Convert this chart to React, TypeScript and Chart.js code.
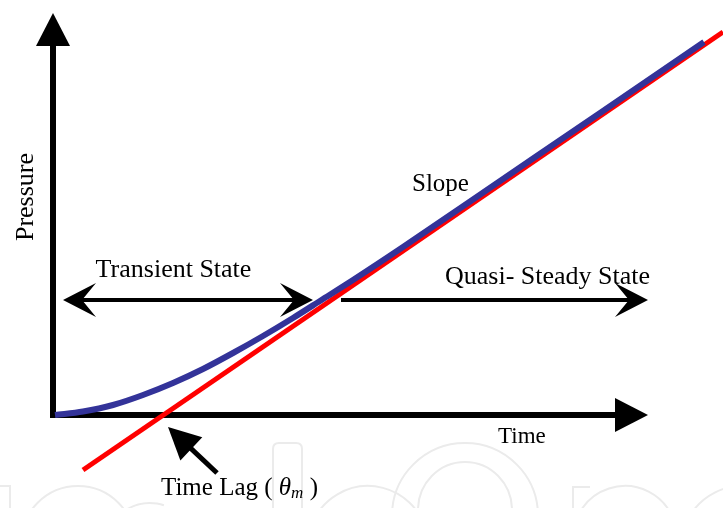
import React, { useEffect, useRef } from "react";
import { Chart, registerables } from "chart.js";

Chart.register(...registerables);

const blueTime = [2, 30, 60, 90, 120, 150, 180, 210, 240, 270, 300, 350, 450, 550, 651];
const bluePressure = [0, 3.5, 10, 20, 32, 46, 62, 79, 97, 116, 135, 168, 236, 304, 373];

// Red line: late-time straight-line (slope) extrapolation
const redTime = [30, 670];
const redPressure = [-55, 383];

// Axis arrows (origin and tips)
const axisTimeTip = 595;
const axisPressureTip = 402;

// State arrows
const stateArrowPressure = 115;
const transientTime = [10, 260];
const quasiTime = [288, 595];

// Time-lag pointer arrow [time, pressure]
const lagTip = [115, -12];
const lagTail = [164, -58];

// Labels
const labelTexts = ["Transient State", "Slope", "Quasi- Steady State", "Time"];
const labelTime = [120.5, 359, 392, 445];
const labelPressure = [138, 224, 131, -28];
const labelAlign = ["center", "left", "left", "left"];
const labelSize = [26, 25, 26, 23];
const yTitle = "Pressure";
const yTitlePos = [-20, 218];
const lagLabelPos = [108, -80];

const FONT = "'Liberation Serif', 'Times New Roman', serif";

function notchedHead(ctx: CanvasRenderingContext2D, tx: number, ty: number, ang: number, L: number, W: number, N: number) {
  const c = Math.cos(ang), s = Math.sin(ang);
  const bx = tx - L * c, by = ty - L * s;
  ctx.beginPath();
  ctx.moveTo(tx, ty);
  ctx.lineTo(bx - W * s, by + W * c);
  ctx.lineTo(tx - (L - N) * c, ty - (L - N) * s);
  ctx.lineTo(bx + W * s, by - W * c);
  ctx.closePath();
  ctx.fill();
}

function triHead(ctx: CanvasRenderingContext2D, tx: number, ty: number, ang: number, L: number, W: number) {
  const c = Math.cos(ang), s = Math.sin(ang);
  const bx = tx - L * c, by = ty - L * s;
  ctx.beginPath();
  ctx.moveTo(tx, ty);
  ctx.lineTo(bx - W * s, by + W * c);
  ctx.lineTo(bx + W * s, by - W * c);
  ctx.closePath();
  ctx.fill();
}

const schematicPlugin = {
  id: "schematic",
  beforeDatasetsDraw(chart: any) {
    const ctx: CanvasRenderingContext2D = chart.ctx;
    const xs = chart.scales.x, ys = chart.scales.y;
    const area = chart.chartArea;
    ctx.save();
    // faint watermark outlines
    ctx.strokeStyle = "#ebebeb";
    ctx.lineWidth = 2;
    const b = area.bottom;
    ctx.beginPath();
    ctx.moveTo(area.left, b - 22);
    ctx.lineTo(area.left + 10, b - 22);
    ctx.lineTo(area.left + 10, b);
    ctx.stroke();
    ctx.beginPath();
    ctx.arc(area.left + 78, b + 35, 57, Math.PI, 2 * Math.PI);
    ctx.stroke();
    ctx.beginPath();
    ctx.arc(area.left + 150, b + 40, 45, Math.PI * 1.05, Math.PI * 1.6);
    ctx.stroke();
    ctx.beginPath();
    ctx.moveTo(area.left + 273, b);
    ctx.lineTo(area.left + 273, b - 59);
    ctx.quadraticCurveTo(area.left + 273, b - 65, area.left + 279, b - 65);
    ctx.lineTo(area.left + 296, b - 65);
    ctx.quadraticCurveTo(area.left + 302, b - 65, area.left + 302, b - 59);
    ctx.lineTo(area.left + 302, b);
    ctx.stroke();
    ctx.beginPath();
    ctx.arc(area.left + 368, b + 38, 60, Math.PI * 1.08, Math.PI * 1.9);
    ctx.stroke();
    ctx.beginPath();
    ctx.ellipse(area.left + 465, b + 8, 73, 73, 0, Math.PI, 2 * Math.PI);
    ctx.stroke();
    ctx.beginPath();
    ctx.ellipse(area.left + 465, b + 2, 47, 48, 0, Math.PI, 2 * Math.PI);
    ctx.stroke();
    ctx.beginPath();
    ctx.moveTo(area.left + 573, b);
    ctx.lineTo(area.left + 573, b - 21);
    ctx.lineTo(area.left + 590, b - 21);
    ctx.stroke();
    ctx.beginPath();
    ctx.arc(area.left + 625, b + 30, 52, Math.PI * 1.15, Math.PI * 1.85);
    ctx.stroke();
    ctx.beginPath();
    ctx.arc(area.left + 742, b + 38, 60, Math.PI * 1.1, Math.PI * 1.6);
    ctx.stroke();

    // axes
    const ox = xs.getPixelForValue(0), oy = ys.getPixelForValue(0);
    const xt = xs.getPixelForValue(axisTimeTip), yt = ys.getPixelForValue(axisPressureTip);
    ctx.strokeStyle = "#000";
    ctx.fillStyle = "#000";
    ctx.lineWidth = 6;
    ctx.lineCap = "butt";
    ctx.beginPath();
    ctx.moveTo(ox, oy + 3);
    ctx.lineTo(ox, yt + 32);
    ctx.stroke();
    triHead(ctx, ox, yt, -Math.PI / 2, 33, 17);
    ctx.beginPath();
    ctx.moveTo(ox - 3, oy);
    ctx.lineTo(xt - 32, oy);
    ctx.stroke();
    triHead(ctx, xt, oy, 0, 33, 17);
    ctx.restore();
  },
  afterDatasetsDraw(chart: any) {
    const ctx: CanvasRenderingContext2D = chart.ctx;
    const xs = chart.scales.x, ys = chart.scales.y;
    const px = (v: number) => xs.getPixelForValue(v);
    const py = (v: number) => ys.getPixelForValue(v);
    ctx.save();
    ctx.fillStyle = "#000";
    ctx.strokeStyle = "#000";
    ctx.lineCap = "butt";

    // Transient double arrow
    const ay = py(stateArrowPressure);
    const L = 33, W = 17, N = 14;
    const tl = px(transientTime[0]), tr = px(transientTime[1]);
    ctx.lineWidth = 4;
    ctx.beginPath();
    ctx.moveTo(tl + (L - N), ay);
    ctx.lineTo(tr - (L - N), ay);
    ctx.stroke();
    notchedHead(ctx, tl, ay, Math.PI, L, W, N);
    notchedHead(ctx, tr, ay, 0, L, W, N);

    // Quasi-steady arrow
    const ql = px(quasiTime[0]), qr = px(quasiTime[1]);
    ctx.beginPath();
    ctx.moveTo(ql, ay);
    ctx.lineTo(qr - (L - N), ay);
    ctx.stroke();
    notchedHead(ctx, qr, ay, 0, L, W, N);

    // Time-lag pointer
    const tx = px(lagTip[0]), ty = py(lagTip[1]);
    const sx = px(lagTail[0]), sy = py(lagTail[1]);
    const ang = Math.atan2(ty - sy, tx - sx);
    ctx.lineWidth = 5;
    ctx.beginPath();
    ctx.moveTo(sx, sy);
    ctx.lineTo(tx - 28 * Math.cos(ang), ty - 28 * Math.sin(ang));
    ctx.stroke();
    triHead(ctx, tx, ty, ang, 32, 16);

    // Labels
    ctx.textBaseline = "alphabetic";
    labelTexts.forEach((t, i) => {
      ctx.font = `${labelSize[i]}px ${FONT}`;
      ctx.textAlign = labelAlign[i] as CanvasTextAlign;
      ctx.fillText(t, px(labelTime[i]), py(labelPressure[i]));
    });

    // Y title rotated
    ctx.save();
    ctx.translate(px(yTitlePos[0]), py(yTitlePos[1]));
    ctx.rotate(-Math.PI / 2);
    ctx.font = `26px ${FONT}`;
    ctx.textAlign = "center";
    ctx.fillText(yTitle, 0, 0);
    ctx.restore();

    // Time Lag ( θm )
    let lx = px(lagLabelPos[0]);
    const ly = py(lagLabelPos[1]);
    ctx.textAlign = "left";
    ctx.font = `25px ${FONT}`;
    const p1 = "Time Lag ( ";
    ctx.fillText(p1, lx, ly);
    lx += ctx.measureText(p1).width;
    ctx.font = `italic 25px ${FONT}`;
    ctx.fillText("\u03b8", lx, ly);
    lx += ctx.measureText("\u03b8").width;
    ctx.font = `italic 17px ${FONT}`;
    ctx.fillText("m", lx, ly + 3);
    lx += ctx.measureText("m").width;
    ctx.font = `25px ${FONT}`;
    ctx.fillText(" )", lx, ly);
    ctx.restore();
  },
};

export default function App() {
  const ref = useRef<HTMLCanvasElement | null>(null);
  useEffect(() => {
    if (!ref.current) return;
    const chart = new Chart(ref.current, {
      type: "line",
      data: {
        datasets: [
          {
            label: "Pressure response",
            data: blueTime.map((t, i) => ({ x: t, y: bluePressure[i] })),
            borderColor: "#333399",
            borderWidth: 6,
            pointRadius: 0,
            cubicInterpolationMode: "monotone",
            fill: false,
            order: 0,
          },
          {
            label: "Straight-line slope",
            data: redTime.map((t, i) => ({ x: t, y: redPressure[i] })),
            borderColor: "#ff0000",
            borderWidth: 5,
            pointRadius: 0,
            fill: false,
            order: 1,
          },
        ],
      },
      options: {
        animation: false,
        responsive: true,
        maintainAspectRatio: false,
        events: [],
        layout: { padding: 0 },
        scales: {
          x: { type: "linear", min: -53, max: 670, display: false },
          y: { type: "linear", min: -93, max: 415, display: false },
        },
        plugins: { legend: { display: false }, tooltip: { enabled: false } },
      },
      plugins: [schematicPlugin],
    } as any);
    return () => chart.destroy();
  }, []);
  return (
    <div style={{ position: "absolute", left: 0, top: 0, width: 723, height: 508, background: "#fff" }}>
      <canvas ref={ref} />
    </div>
  );
}
